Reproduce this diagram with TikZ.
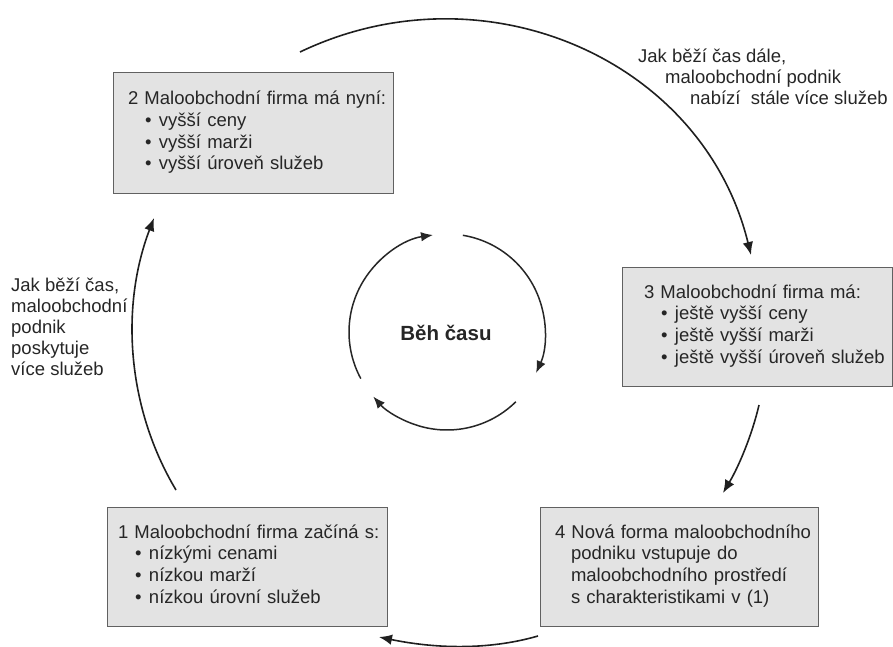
\documentclass[tikz,border=0pt]{standalone}
\usepackage{fontspec}
\setmainfont{Liberation Sans}
\usetikzlibrary{arrows.meta}
\newcommand\bitem[1]{\hspace*{17pt}\makebox[14pt][l]{\textbullet}#1}
\newcommand\boxlines[1]{\begin{tabular}{@{}l@{}}#1\end{tabular}}
\begin{document}
\begin{tikzpicture}[x=1pt,y=-1pt,
  box/.style={draw=black!62, fill=black!11, line width=1pt, rectangle, inner ysep=0pt,
    align=left, text=black!85, font=\fontsize{18.5}{21.7}\selectfont},
  lbl/.style={align=left, text=black!85, inner sep=0pt, font=\fontsize{18.5}{21}\selectfont},
  conn/.style={line width=1.6pt, draw=black!88, -{Latex[length=13pt,width=10.5pt]}},
  iconn/.style={line width=1.5pt, draw=black!85, -{Latex[length=12pt,width=9.5pt]}}]
\useasboundingbox (0,0) rectangle (893,647);
% boxes
\node[box, inner xsep=15pt, text width=250pt, minimum height=120pt] (b2) at (253,133)
  {\boxlines{2 Maloobchodní firma má nyní:\\\bitem{vyšší ceny}\\\bitem{vyšší marži}\\\bitem{vyšší úroveň služeb}}};
\node[box, inner xsep=22pt, text width=226pt, minimum height=119pt] (b3) at (757,326.5)
  {\boxlines{3 Maloobchodní firma má:\\\bitem{ještě vyšší ceny}\\\bitem{ještě vyšší marži}\\\bitem{ještě vyšší úroveň služeb}}};
\node[box, inner xsep=11pt, text width=258pt, minimum height=119pt] (b1) at (247,566.5)
  {\boxlines{1 Maloobchodní firma začíná s:\\\bitem{nízkými cenami}\\\bitem{nízkou marží}\\\bitem{nízkou úrovní služeb}}};
\node[box, inner xsep=15pt, text width=248pt, minimum height=119pt] (b4) at (679,566.5)
  {\boxlines{4 Nová forma maloobchodního\\\hspace*{16pt}podniku vstupuje do\\\hspace*{16pt}maloobchodního prostředí\\\hspace*{16pt}s charakteristikami v (1)}};
% labels
\node[lbl, anchor=north west] (l1) at (11,278)
  {Jak běží čas,\\maloobchodní\\podnik\\poskytuje\\více služeb};
\node[lbl, anchor=north west] (l2) at (638,49)
  {Jak běží čas dále,\\\hspace*{27pt}maloobchodní podnik\\\hspace*{52pt}nabízí\ \ stále více služeb};
% outer cycle
\coordinate (a2s) at (300,52);  \coordinate (a2e) at (751,255);
\coordinate (a3s) at (759,405); \coordinate (a3e) at (723,493);
\coordinate (a4s) at (538,636); \coordinate (a4e) at (379,637);
\coordinate (a1s) at (176,490); \coordinate (a1e) at (154,218);
\draw[conn] (a2s) .. controls +(184,-88) and +(-48,-196) .. (a2e);
\draw[conn] (a3s) .. controls +(-7,30) and +(16,-27) .. (a3e);
\draw[conn] (a4s) .. controls +(-52,15) and +(53,11) .. (a4e);
\draw[conn] (a1s) .. controls +(-49,-82) and +(-34,89) .. (a1e);
% inner cycle
\coordinate (ic) at (447,332);
\node[font=\bfseries\fontsize{20.5}{24}\selectfont, text=black!85] (t) at (446,333) {Běh času};
\draw[iconn] ([shift={(-208.4:98)}]ic) arc[start angle=-208.4, end angle=-98.2, radius=98];
\draw[iconn] ([shift={(-80.7:98)}]ic) arc[start angle=-80.7, end angle=24.7, radius=98];
\draw[iconn] ([shift={(45.4:98)}]ic) arc[start angle=45.4, end angle=138.8, radius=98];
\end{tikzpicture}
\end{document}
